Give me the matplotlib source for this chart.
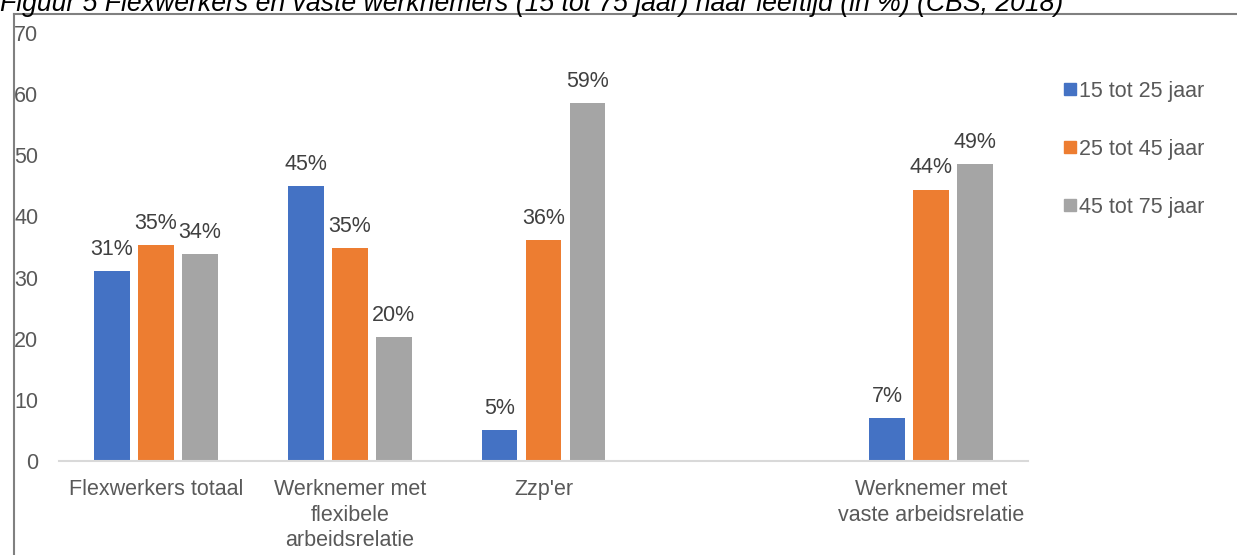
import matplotlib.pyplot as plt
import numpy as np
from matplotlib.lines import Line2D

plt.rcParams['font.family'] = ['Liberation Sans', 'DejaVu Sans']

# Data
categories = ["Flexwerkers totaal", "Werknemer met\nflexibele\narbeidsrelatie",
              "Zzp'er", "", "Werknemer met\nvaste arbeidsrelatie"]
series_names = ["15 tot 25 jaar", "25 tot 45 jaar", "45 tot 75 jaar"]
age_15_25 = [31.0, 45.0, 5.0, np.nan, 7.0]
age_25_45 = [35.3, 34.8, 36.2, np.nan, 44.4]
age_45_75 = [33.8, 20.2, 58.6, np.nan, 48.5]
labels_15_25 = ["31%", "45%", "5%", "", "7%"]
labels_25_45 = ["35%", "35%", "36%", "", "44%"]
labels_45_75 = ["34%", "20%", "59%", "", "49%"]
yticks = [0, 10, 20, 30, 40, 50, 60, 70]

colors = ["#4472C4", "#ED7D31", "#A5A5A5"]
text_color = "#595959"
fs = 15.5

W, H = 1237, 555
fig = plt.figure(figsize=(W / 100, H / 100), dpi=100)
ax = fig.add_axes([59 / W, 1 - 461 / H, (1028 - 59) / W, (461 - 33) / H])

x = np.arange(len(categories))
bar_w = 0.185
step = 0.227
all_series = [age_15_25, age_25_45, age_45_75]
all_labels = [labels_15_25, labels_25_45, labels_45_75]
for i, (vals, labs, col) in enumerate(zip(all_series, all_labels, colors)):
    xs = x + (i - 1) * step
    ax.bar(xs, vals, width=bar_w, color=col, zorder=2)
    for xi, v, lab in zip(xs, vals, labs):
        if lab:
            ax.annotate(lab, (xi, v), xytext=(0, 8), textcoords="offset points",
                        ha="center", va="bottom", fontsize=fs, color="#404040")

ax.set_xlim(-0.5, len(categories) - 0.5)
ax.set_ylim(0, 70)
ax.set_yticks(yticks)
ax.set_xticks(x)
ax.set_xticklabels(categories, fontsize=fs, color=text_color, linespacing=1.28)
ax.tick_params(axis="y", length=0, pad=15, labelsize=fs, labelcolor=text_color)
ax.tick_params(axis="x", length=0, pad=13)
for s in ["top", "right", "left"]:
    ax.spines[s].set_visible(False)
ax.spines["bottom"].set_color("#D9D9D9")
ax.spines["bottom"].set_linewidth(1.5)

handles = [Line2D([], [], marker="s", linestyle="none", markersize=8,
                  markerfacecolor=c, markeredgecolor=c) for c in colors]
fig.legend(handles, series_names, loc="upper left",
           bbox_to_anchor=(1053 / W, 1 - 70 / H), frameon=False,
           fontsize=fs, labelcolor=text_color, handlelength=0.6,
           handletextpad=0.1, labelspacing=1.72, borderpad=0)

# Title (partly cut off at the top in the reference)
fig.text(0.0, 1 - 11 / H, "Figuur 5 Flexwerkers en vaste werknemers (15 tot 75 jaar) "
         "naar leeftijd (in %) (CBS, 2018)", fontsize=19.2, style="italic",
         color="black", ha="left", va="baseline")

# Outer frame lines
fig.add_artist(Line2D([14 / W, 14 / W], [0, 1 - 14 / H], color="#808080", lw=1.5))
fig.add_artist(Line2D([14 / W, 1], [1 - 14 / H, 1 - 14 / H], color="#808080", lw=1.5))

fig.savefig("out.png", dpi=100)
